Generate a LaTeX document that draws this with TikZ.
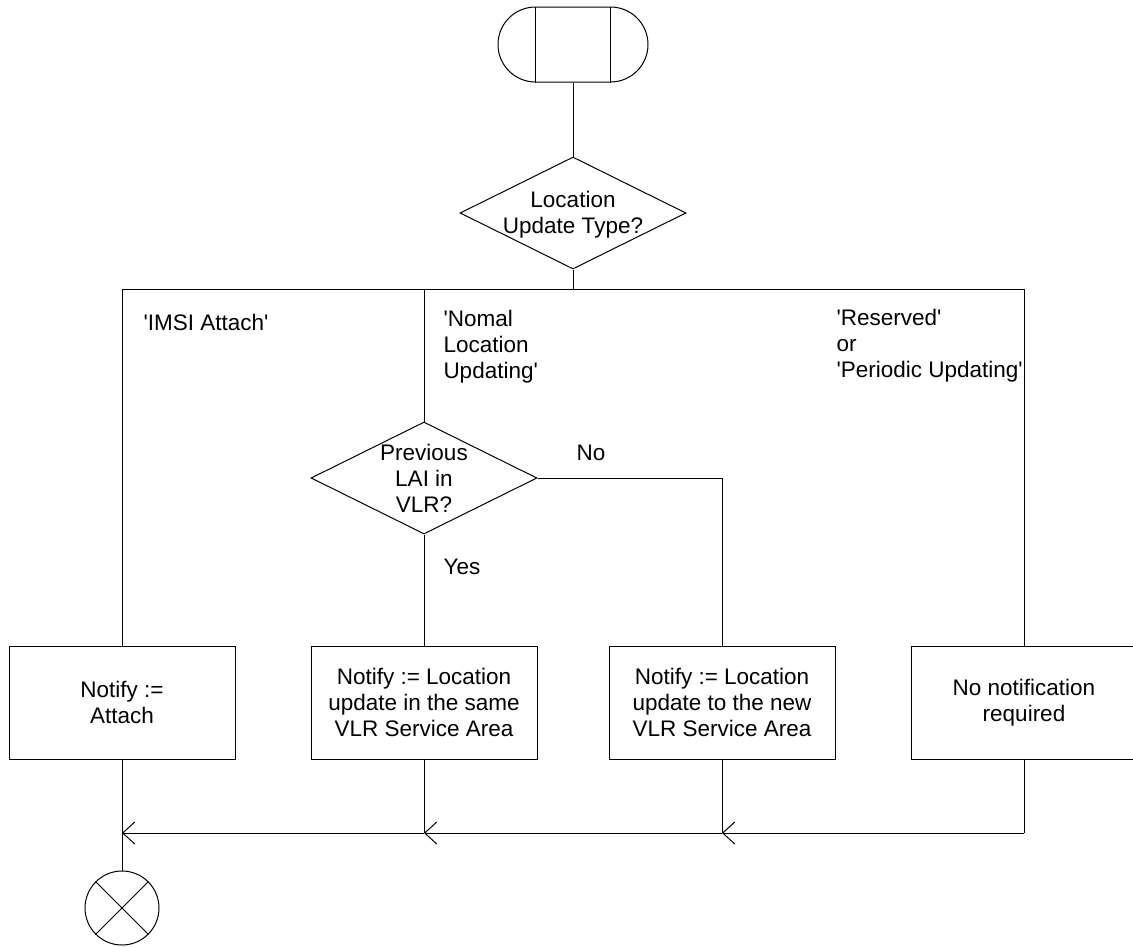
\documentclass[tikz,border=0pt]{standalone}
\usepackage{fontspec}
\setmainfont{Liberation Sans}[Ligatures=TeXOff]
\usetikzlibrary{shapes.geometric,shapes.misc,arrows.meta}
\begin{document}
\begin{tikzpicture}[x=1pt,y=-1pt, line width=1pt,
  every node/.style={font=\fontsize{22.5}{26}\selectfont},
  box/.style={draw, rectangle, minimum width=226pt, minimum height=113pt, inner sep=0pt, align=center},
  dec/.style={draw, diamond, minimum width=226pt, minimum height=112pt, inner sep=0pt},
  lbl/.style={align=left, inner sep=0pt, anchor=west},
  merge/.style={-{Straight Barb[length=12pt,width=22pt,line width=1pt]}}
]
\useasboundingbox (0,0) rectangle (1133,946);

% start symbol
\node[draw, rounded rectangle, minimum width=150pt, minimum height=75pt, inner sep=0pt] (start) at (573,44.5) {};
\draw ([xshift=-37.5pt]start.north) -- ([xshift=-37.5pt]start.south);
\draw ([xshift=37.5pt]start.north) -- ([xshift=37.5pt]start.south);

% first decision
\node[dec] (d1) at (573,213) {};
\node[align=center, inner sep=0pt] (d1t) at ([yshift=-2pt]d1.center) {Location\\Update Type?};

\coordinate (j0) at (573,289);
\coordinate (jl) at (122,289);
\coordinate (jm) at (424,289);
\coordinate (jr) at (1024,289);

% second decision
\node[dec] (d2) at (424,478) {};
\node[align=center, inner sep=0pt] (d2t) at (d2.center) {Previous\\LAI in\\VLR?};

% task boxes
\node[box] (b1) at (122,702.5) {Notify :=\\Attach};
\node[box] (b2) at (424,702.5) {Notify := Location\\update in the same\\VLR Service Area};
\node[box] (b3) at (722,702.5) {Notify := Location\\update to the new\\VLR Service Area};
\node[box] (b4) at (1024,702.5) {No notification\\required};

% branch labels
\node[lbl] (l1) at (143,322) {'IMSI Attach'};
\node[lbl] (l2) at (443,347) {'Nomal\\Location\\Updating'};
\node[lbl] (l3) at (836,346) {'Reserved'\\or\\'Periodic Updating'};
\node[inner sep=0pt] (lno) at (591,453) {No};
\node[inner sep=0pt] (lyes) at (462,567) {Yes};

% connectors
\draw (start.south) -- (d1.north);
\draw (d1.south) -- (j0);
\draw (jl) -- (jr);
\draw (jl) -- (b1.north);
\draw (jm) -- (d2.north);
\draw (jr) -- (b4.north);
\draw (d2.south) -- (b2.north);
\draw (d2.east) -| (b3.north);

% merge
\coordinate (m1) at (122,833);
\coordinate (m2) at (424,833);
\coordinate (m3) at (722,833);
\coordinate (m4) at (1024,833);
\draw (b1.south) -- (m1);
\draw (b2.south) -- (m2);
\draw (b3.south) -- (m3);
\draw (b4.south) -- (m4);
\draw[merge] (m4) -- (m3);
\draw[merge] (m3) -- (m2);
\draw[merge] (m2) -- (m1);

% stop symbol
\node[draw, circle, minimum size=74pt, inner sep=0pt] (stop) at (122,908) {};
\draw (stop.45) -- (stop.225);
\draw (stop.135) -- (stop.315);
\draw (m1) -- (stop.north);
\end{tikzpicture}
\end{document}
